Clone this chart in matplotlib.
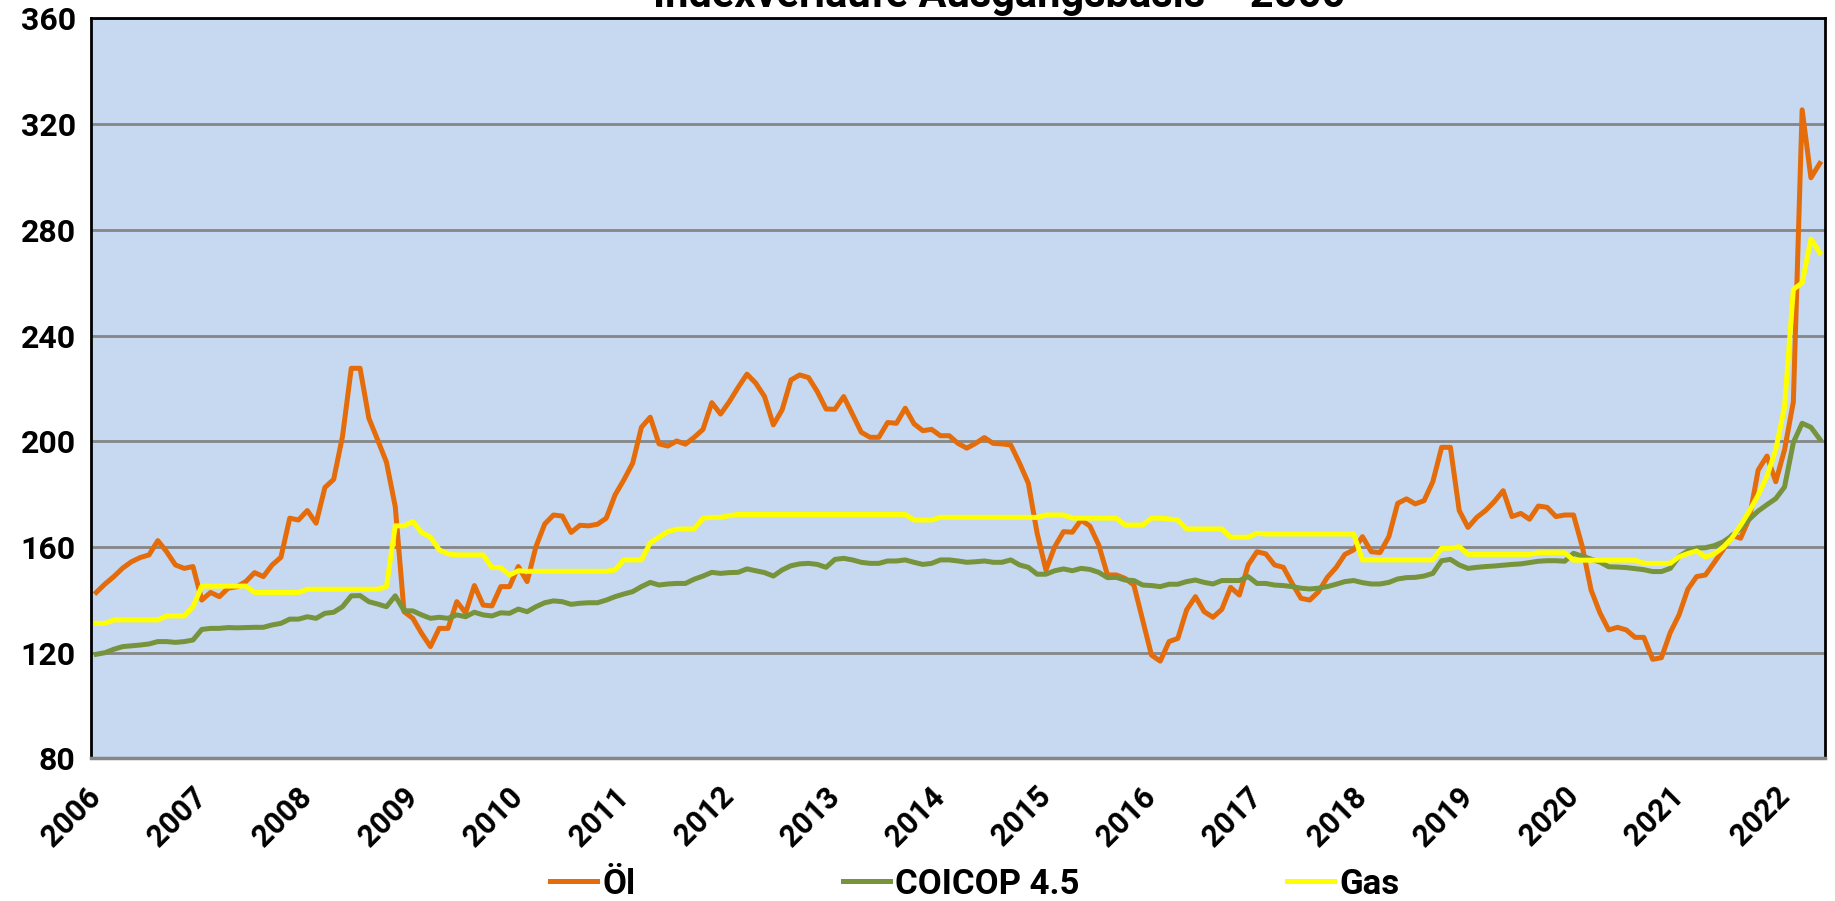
import matplotlib.pyplot as plt
import numpy as np

# monthly index values, Jan 2006 .. May 2022
oel = [142.8, 146.0, 148.8, 152.0, 154.4, 156.0, 157.0, 162.4, 158.2, 153.2,
       151.9, 152.6, 139.9, 142.8, 141.2, 144.4, 145.0, 146.9, 150.3, 148.8,
       153.2, 156.1, 170.9, 170.2, 173.8, 169.0, 182.5, 185.6, 201.8, 227.6,
       227.6, 208.7, 200.5, 192.1, 175.3, 135.5, 133.0, 127.3, 122.3, 129.2,
       129.2, 139.3, 135.1, 145.4, 138.0, 137.7, 145.0, 145.0, 152.6, 146.9,
       160.1, 168.7, 172.1, 171.7, 165.5, 168.2, 168.0, 168.6, 170.9, 179.7,
       185.4, 191.7, 205.3, 209.1, 199.0, 198.2, 200.1, 198.9, 201.5, 204.5,
       214.6, 210.3, 215.0, 220.4, 225.4, 222.0, 216.9, 206.2, 211.9, 223.2,
       225.1, 224.1, 218.8, 212.2, 212.1, 216.9, 210.2, 203.4, 201.5, 201.5,
       207.1, 206.8, 212.5, 206.6, 204.0, 204.5, 202.1, 202.1, 199.2, 197.4,
       199.2, 201.4, 199.2, 199.0, 198.6, 191.7, 184.1, 165.2, 151.3, 160.1,
       165.8, 165.6, 170.2, 167.9, 160.8, 149.4, 149.4, 148.1, 145.6, 132.4,
       119.1, 116.8, 124.2, 125.4, 136.2, 141.2, 135.5, 133.4, 136.4, 144.7,
       141.8, 153.2, 158.2, 157.4, 153.2, 152.3, 146.2, 140.6, 139.9, 143.1,
       148.5, 152.2, 157.2, 158.9, 163.9, 158.2, 157.9, 163.9, 176.5, 178.2,
       176.3, 177.5, 184.7, 197.7, 197.7, 173.8, 167.4, 171.2, 173.8, 177.2,
       181.3, 171.5, 172.7, 170.5, 175.5, 175.0, 171.5, 172.1, 172.1, 160.1,
       143.7, 135.1, 128.6, 129.6, 128.6, 125.8, 125.8, 117.5, 118.1, 127.6,
       134.3, 144.0, 148.8, 149.4, 154.1, 158.9, 164.5, 163.3, 170.9, 189.1,
       194.4, 184.7, 196.8, 214.9, 325.4, 299.7, 305.1]

coicop = [119.4, 120.0, 121.3, 122.3, 122.6, 122.9, 123.3, 124.2, 124.2, 123.9,
          124.2, 124.8, 128.8, 129.2, 129.2, 129.5, 129.4, 129.5, 129.6, 129.6,
          130.5, 131.1, 132.7, 132.7, 133.6, 133.0, 134.9, 135.3, 137.4, 141.5,
          141.6, 139.3, 138.4, 137.4, 141.5, 135.9, 135.8, 134.3, 133.0, 133.4,
          133.0, 134.3, 133.6, 135.3, 134.3, 133.9, 135.1, 134.9, 136.5, 135.5,
          137.4, 138.9, 139.6, 139.3, 138.3, 138.7, 138.9, 138.9, 139.9, 141.2,
          142.2, 143.1, 145.0, 146.6, 145.6, 146.0, 146.2, 146.2, 147.8, 149.0,
          150.4, 150.0, 150.3, 150.4, 151.7, 151.0, 150.3, 149.0, 151.3, 152.9,
          153.6, 153.8, 153.4, 152.3, 155.3, 155.7, 155.1, 154.2, 153.8, 153.8,
          154.7, 154.7, 155.1, 154.2, 153.4, 153.8, 155.1, 155.1, 154.7, 154.2,
          154.4, 154.7, 154.2, 154.2, 155.1, 153.2, 152.3, 149.7, 149.7, 151.0,
          151.7, 151.0, 151.9, 151.5, 150.4, 148.4, 148.5, 147.5, 147.3, 145.6,
          145.4, 145.0, 145.9, 145.9, 146.9, 147.5, 146.6, 146.0, 147.3, 147.3,
          147.3, 148.8, 146.2, 146.2, 145.6, 145.4, 145.0, 144.4, 144.1, 144.4,
          145.0, 145.9, 146.9, 147.3, 146.5, 146.0, 146.0, 146.6, 147.9, 148.4,
          148.5, 149.0, 150.0, 154.8, 155.3, 153.2, 151.9, 152.3, 152.6, 152.8,
          153.1, 153.4, 153.6, 154.1, 154.6, 154.8, 154.8, 154.6, 157.6, 156.5,
          155.4, 154.3, 152.5, 152.4, 152.2, 151.8, 151.4, 150.7, 150.7, 151.9,
          156.4, 158.5, 159.6, 159.7, 160.5, 161.9, 164.2, 166.9, 170.5, 173.6,
          176.0, 178.3, 182.7, 199.5, 206.8, 205.3, 200.8]

gas = [131.1, 131.1, 132.4, 132.4, 132.4, 132.4, 132.4, 132.4, 133.9, 133.9,
       133.9, 137.4, 145.2, 145.2, 145.2, 145.2, 145.2, 145.2, 142.8, 142.8,
       142.8, 142.8, 142.8, 142.8, 144.0, 144.0, 144.0, 144.0, 144.0, 144.0,
       144.0, 144.0, 144.0, 145.0, 168.0, 168.0, 169.6, 165.5, 163.7, 158.9,
       157.4, 157.0, 157.0, 157.0, 157.0, 152.2, 152.2, 149.4, 151.0, 150.8,
       150.8, 150.8, 150.8, 150.8, 150.8, 150.8, 150.8, 150.8, 150.8, 151.3,
       155.1, 155.1, 155.1, 161.6, 163.7, 165.8, 166.7, 166.8, 166.8, 170.9,
       171.2, 171.2, 171.9, 172.3, 172.3, 172.3, 172.3, 172.3, 172.3, 172.3,
       172.3, 172.3, 172.3, 172.3, 172.3, 172.3, 172.3, 172.3, 172.3, 172.3,
       172.3, 172.3, 172.3, 170.2, 170.2, 170.2, 171.2, 171.2, 171.2, 171.2,
       171.2, 171.2, 171.2, 171.2, 171.2, 171.2, 171.2, 171.2, 172.1, 172.1,
       172.1, 170.9, 170.9, 170.9, 170.9, 170.9, 170.9, 168.3, 168.3, 168.3,
       170.9, 170.9, 170.6, 170.2, 166.8, 166.8, 166.8, 166.8, 166.8, 163.7,
       163.7, 163.7, 165.2, 164.9, 164.9, 164.9, 164.9, 164.9, 164.9, 164.9,
       164.9, 164.9, 164.9, 164.9, 155.1, 155.1, 155.1, 155.1, 155.1, 155.1,
       155.1, 155.1, 155.1, 159.5, 159.5, 160.1, 157.2, 157.2, 157.2, 157.2,
       157.2, 157.2, 157.2, 157.2, 157.8, 157.8, 157.8, 157.8, 155.0, 155.0,
       155.0, 155.0, 155.0, 155.0, 155.0, 155.0, 153.8, 153.8, 153.8, 153.8,
       156.3, 157.5, 158.5, 156.2, 157.4, 159.8, 163.3, 168.2, 173.6, 179.6,
       186.8, 196.8, 213.1, 257.5, 259.9, 276.5, 271.4]

years = list(range(2006, 2023))

plt.rcParams['font.family'] = ['Roboto', 'DejaVu Sans']
plt.rcParams['font.weight'] = 'bold'

fig = plt.figure(figsize=(18.35, 9.01), dpi=100)
ax = fig.add_axes([91 / 1835, 1 - 758.4 / 901, (1825 - 91) / 1835, (758.4 - 18.4) / 901])
ax.set_facecolor('#C6D9F0')

x = np.arange(len(oel))
l1, = ax.plot(x, oel, color='#E46C0A', lw=3.6, label='Öl')
l2, = ax.plot(x, coicop, color='#77933C', lw=3.6, label='COICOP 4.5')
l3, = ax.plot(x, gas, color='#FFFF00', lw=3.6, label='Gas')

ax.set_xlim(-0.6, len(oel) - 0.4)
ax.set_ylim(80, 360)
ax.set_yticks(range(80, 361, 40))
ax.grid(axis='y', color='#868686', lw=2)
ax.set_axisbelow(True)

ax.set_xticks([12 * k for k in range(len(years))])
ax.set_xticklabels([str(y) for y in years], rotation=45, ha='right', va='center',
                   rotation_mode='anchor', fontsize=22, fontweight='bold')
ax.tick_params(axis='x', length=0, pad=24)
ax.tick_params(axis='y', length=0, pad=11, labelsize=23)
for t in ax.get_yticklabels():
    t.set_fontweight('bold')

for s in ['left', 'top', 'right']:
    ax.spines[s].set_color('black')
    ax.spines[s].set_linewidth(2)
ax.spines['bottom'].set_color('#868686')
ax.spines['bottom'].set_linewidth(2.5)

# title sits mostly above the figure edge, as in the original
fig.text(999 / 1835, 1 - 7 / 901, 'Indexverläufe Ausgangsbasis = 2000', ha='center', va='baseline',
         fontsize=30, fontweight='bold')

for line, lab, xpos in [(l1, 'Öl', 550), (l2, 'COICOP 4.5', 843), (l3, 'Gas', 1287)]:
    fig.legend([line], [lab], loc='center left', bbox_to_anchor=(xpos / 1835, 1 - 884 / 901),
               frameon=False, fontsize=25, handlelength=1.35, handletextpad=0.15,
               borderpad=0, borderaxespad=0)

fig.savefig('out.png', dpi=100)
